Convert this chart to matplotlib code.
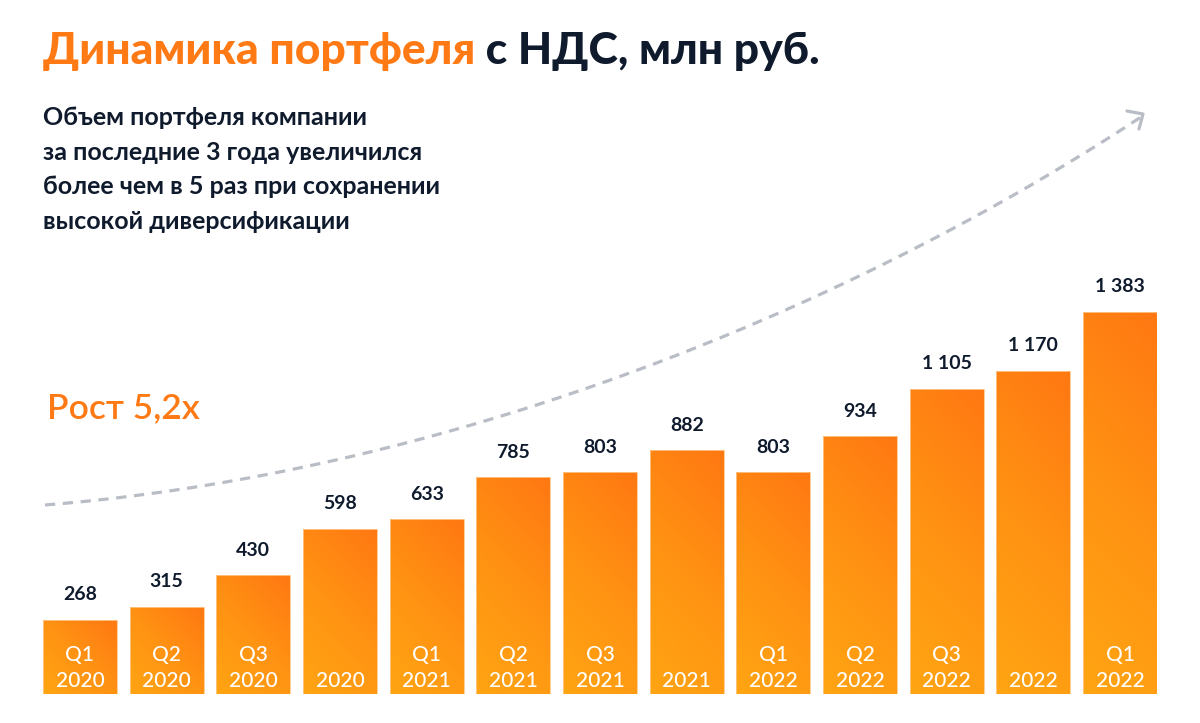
import numpy as np
import matplotlib
matplotlib.use('Agg')
import matplotlib.pyplot as plt
from matplotlib.colors import LinearSegmentedColormap
from matplotlib.lines import Line2D

# ---- data ----
quarters = ["Q1", "Q2", "Q3", "", "Q1", "Q2", "Q3", "", "Q1", "Q2", "Q3", "", "Q1"]
years = ["2020", "2020", "2020", "2020", "2021", "2021", "2021", "2021",
         "2022", "2022", "2022", "2022", "2022"]
values = [268, 315, 430, 598, 633, 785, 803, 882, 803, 934, 1105, 1170, 1383]
value_labels = ["268", "315", "430", "598", "633", "785", "803", "882",
                "803", "934", "1 105", "1 170", "1 383"]

title_orange = "Динамика портфеля"
title_dark = " с НДС, млн руб."
subtitle_lines = ["Объем портфеля компании",
                  "за последние 3 года увеличился",
                  "более чем в 5 раз при сохранении",
                  "высокой диверсификации"]
growth_text = "Рост 5,2х"

ORANGE = "#FF7A14"
DARK = "#0F1B2D"
GRAY = "#B9BDC6"
FONT = ["Lato", "DejaVu Sans"]

W, H = 1200, 723
fig = plt.figure(figsize=(W / 100, H / 100), dpi=100)
fig.patch.set_facecolor("white")

# decoration layer in pixel coordinates
deco = fig.add_axes([0, 0, 1, 1], zorder=0)
deco.set_xlim(0, W)
deco.set_ylim(H, 0)
deco.axis("off")

# main bar axes
ax = fig.add_axes([43 / W, (H - 694) / H, 1114 / W, 694 / H], zorder=1)
ax.axis("off")
px_per_unit = (694 - 312) / 1383
ymax = 694 / px_per_unit
xlim = (-0.4265, 12.4265)

x = np.arange(len(values))
bw = 0.853
bars = ax.bar(x, values, width=bw, color="none", edgecolor="#FFC88C", linewidth=0.6, zorder=3)

cmap = LinearSegmentedColormap.from_list("og", ["#FFA513", "#FF9212", "#FF7812"])
u = np.linspace(0, 1, 60)
v = np.linspace(0, 1, 300)
U, V = np.meshgrid(u, v)
bar_w_px = 74.0
for b in bars:
    x0 = b.get_x()
    x1 = x0 + b.get_width()
    h = b.get_height()
    h_px = h * px_per_unit
    grad = (U * bar_w_px + V * h_px) / (bar_w_px + h_px)
    im = ax.imshow(grad, extent=[x0, x1, 0, h], origin="lower", cmap=cmap,
                   aspect="auto", zorder=2, vmin=0, vmax=1, interpolation="bilinear")
    im.set_clip_path(b)

ax.set_xlim(*xlim)
ax.set_ylim(0, ymax)

for xi, val, lbl, q, yr in zip(x, values, value_labels, quarters, years):
    ax.annotate(lbl, (xi, val), xytext=(0, 18), textcoords="offset points",
                ha="center", va="center", fontsize=14, fontweight="bold",
                color=DARK, family=FONT, zorder=5)
    ax.annotate(yr, (xi, 0), xytext=(0, 13 * 0.72), textcoords="offset points",
                ha="center", va="center", fontsize=15, fontweight="medium",
                color="white", family=FONT, zorder=5)
    if q:
        ax.annotate(q, (xi, 0), xytext=(0, 38.5 * 0.72), textcoords="offset points",
                    ha="center", va="center", fontsize=15, fontweight="medium",
                    color="white", family=FONT, zorder=5)

# dashed growth curve (decorative)
P0 = np.array([45, 505]); P1 = np.array([445, 473])
P2 = np.array([845, 312]); P3 = np.array([1141, 117])
t = np.linspace(0, 1, 300)[:, None]
curve = ((1 - t) ** 3) * P0 + 3 * ((1 - t) ** 2) * t * P1 + 3 * (1 - t) * t ** 2 * P2 + t ** 3 * P3
deco.plot(curve[:, 0], curve[:, 1], color=GRAY, lw=2.3, dashes=(3.2, 2.4),
          solid_capstyle="butt", dash_capstyle="butt")
deco.add_line(Line2D([1127, 1143, 1139], [111, 114, 129], color=GRAY, lw=2.3,
                     solid_capstyle="round", solid_joinstyle="round"))

# texts
t1 = fig.text(43 / W, 1 - 64 / H, title_orange, fontsize=32, fontweight=900,
              color=ORANGE, family=FONT, va="baseline", ha="left")
fig.canvas.draw()
bb = t1.get_window_extent()
fig.text(bb.x1 / W, 1 - 64 / H, title_dark, fontsize=32, fontweight=900,
         color=DARK, family=FONT, va="baseline", ha="left")

baselines = [125, 160, 194, 229]
for line, yb in zip(subtitle_lines, baselines):
    fig.text(43 / W, 1 - yb / H, line, fontsize=18, fontweight="bold",
             color=DARK, family=FONT, va="baseline", ha="left")

fig.text(47 / W, 1 - 418 / H, growth_text, fontsize=25.5, fontweight="semibold",
         color=ORANGE, family=FONT, va="baseline", ha="left")

fig.savefig("out.png", dpi=100, facecolor="white")
